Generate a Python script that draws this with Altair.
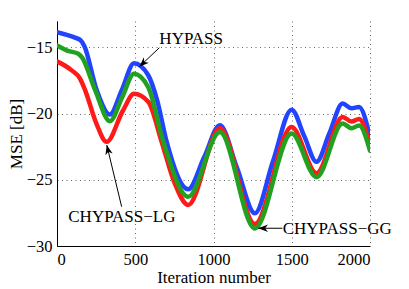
import math
import altair as alt
import pandas as pd

# ---- data ----
hypass_x = [0, 115, 150, 175, 253, 338, 415, 492, 583, 640, 700, 838, 940, 1041, 1150, 1264, 1380, 1499, 1580, 1658, 1740, 1825, 1882, 1930, 2000]
hypass_y = [-13.84, -14.26, -14.45, -14.9, -18.2, -20.07, -18.2, -16.2, -17.1, -19.0, -22.1, -25.72, -23.3, -20.87, -24.1, -27.53, -23.6, -19.7, -21.7, -23.64, -21.5, -19.24, -19.6, -19.5, -21.75]

lg_x = [0, 94, 147, 179, 250, 317, 420, 492, 583, 668, 750, 838, 1041, 1264, 1499, 1658, 1825, 1882, 1930, 2000]
lg_y = [-16.05, -16.73, -17.35, -18.2, -20.7, -22.13, -19.8, -18.5, -19.1, -22.1, -25.2, -26.9, -21.1, -28.34, -21.0, -24.5, -20.25, -20.6, -20.4, -22.4]

gg_x = [0, 70, 136, 160, 243, 338, 415, 492, 583, 679, 838, 1041, 1264, 1499, 1658, 1825, 1882, 1930, 2000]
gg_y = [-14.84, -15.25, -15.47, -15.75, -18.2, -20.57, -18.8, -16.98, -18.0, -22.1, -26.28, -21.38, -28.67, -21.5, -24.8, -20.75, -21.1, -20.9, -22.8]

series_names = ["HYPASS", "CHYPASS\u2212LG", "CHYPASS\u2212GG"]
series_colors = ["#2244ff", "#ff1a1a", "#22a020"]

x_ticks = [0, 500, 1000, 1500, 2000]
y_ticks = [-30, -25, -20, -15]
x_domain = [0, 2000]
y_domain = [-30, -13]

# annotations (data coordinates)
ann_text = ["HYPASS", "CHYPASS\u2212LG", "CHYPASS\u2212GG"]
ann_text_x = [654, 72, 1442]
ann_text_y = [-14.76, -28.16, -29.09]
arrow_tail_x = [654, 413, 1440]
arrow_tail_y = [-15.02, -27.03, -28.66]
arrow_tip_x = [526, 318, 1286]
arrow_tip_y = [-16.45, -22.37, -28.66]

W, H = 313, 225
FONT = "Liberation Serif"
FS = 17

px_per_x = W / (x_domain[1] - x_domain[0])
px_per_y = H / (y_domain[1] - y_domain[0])
angles = []
for tx, ty, hx, hy in zip(arrow_tail_x, arrow_tail_y, arrow_tip_x, arrow_tip_y):
    dx = (hx - tx) * px_per_x
    dy = -(hy - ty) * px_per_y
    a = math.degrees(math.atan2(dx, -dy)) % 360
    angles.append(a)

xs = alt.Scale(domain=x_domain, nice=False, zero=False)
ys = alt.Scale(domain=y_domain, nice=False, zero=False)
common = dict(
    labelFont=FONT, labelFontSize=16.5, labelColor="black", labelPadding=5,
    titleFont=FONT, titleFontSize=FS, titleFontWeight="normal", titleColor="black",
    domainColor="black", domainWidth=1, tickSize=0,
    grid=True, gridColor="#666666", gridDash=[1, 3.5], gridWidth=1, gridOpacity=1,
)
xaxis = alt.Axis(values=x_ticks, title="Iteration number", format="d",
                 titleX=W / 2, titleY=36, titleAlign="center", titleBaseline="alphabetic", **common)
yaxis = alt.Axis(values=y_ticks, title="MSE [dB]", format="d",
                 titleX=-36, titleY=H / 2, titleAlign="center", titleBaseline="alphabetic", titleAngle=270, **common)


def X(f):
    return alt.X(f, scale=xs, axis=xaxis, title="Iteration number")


def Y(f):
    return alt.Y(f, scale=ys, axis=yaxis, title="MSE [dB]")


def line_layer(xv, yv, name, color):
    df = pd.DataFrame({"x": xv, "y": yv, "s": name})
    return alt.Chart(df).mark_line(
        color=color, strokeWidth=4.5, interpolate="monotone", strokeCap="round", strokeJoin="round", clip=True
    ).encode(x=X("x:Q"), y=Y("y:Q"))


blue = line_layer(hypass_x, hypass_y, series_names[0], series_colors[0])
red = line_layer(lg_x, lg_y, series_names[1], series_colors[1])
green = line_layer(gg_x, gg_y, series_names[2], series_colors[2])

ann = pd.DataFrame({
    "t": ann_text, "tx": ann_text_x, "ty": ann_text_y,
    "ax": arrow_tail_x, "ay": arrow_tail_y, "hx": arrow_tip_x, "hy": arrow_tip_y, "ang": angles,
})

texts = alt.Chart(ann).mark_text(
    font=FONT, fontSize=FS, align="left", baseline="alphabetic", color="black"
).encode(x=X("tx:Q"), y=Y("ty:Q"), text="t:N")

rules = alt.Chart(ann).mark_rule(color="black", strokeWidth=1).encode(
    x=X("ax:Q"), y=Y("ay:Q"), x2="hx:Q", y2="hy:Q",
)

heads = alt.Chart(ann).mark_point(
    shape="M0,0L0.38,1L0,0.7L-0.38,1Z", filled=True, color="black", opacity=1, size=380, strokeWidth=0
).encode(
    x=X("hx:Q"), y=Y("hy:Q"),
    angle=alt.Angle("ang:Q", scale=None),
)

chart = alt.layer(blue, red, green, rules, heads, texts).properties(
    width=W, height=H,
    autosize=alt.AutoSizeParams(type="none"),
    padding={"left": 49, "top": 13, "right": 31, "bottom": 43},
).configure_view(stroke=None).configure_axis(
    labelFont=FONT, titleFont=FONT,
)

chart.save("out.html", embed_options={"renderer": "svg", "actions": False})
